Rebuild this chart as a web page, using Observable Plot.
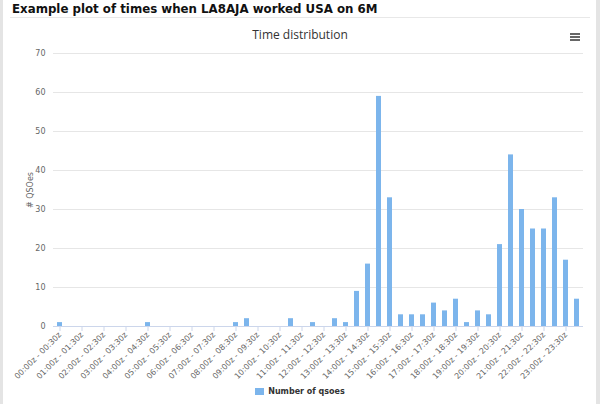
<!DOCTYPE html>
<html>
<head>
<meta charset="utf-8">
<script src="https://cdn.jsdelivr.net/npm/d3@7"></script>
<script src="https://cdn.jsdelivr.net/npm/@observablehq/plot@0.6"></script>
<style>
  html, body { margin: 0; padding: 0; background: #fff; }
  #page { position: relative; width: 600px; height: 404px; overflow: hidden; background: #fff; }
  #lborder { position: absolute; left: 0; top: 0; width: 3px; height: 404px; background: #e4e4e4; }
  #rborder { position: absolute; left: 596px; top: 0; width: 4px; height: 404px; background: #e4e4e4; }
  #title { position: absolute; left: 12px; top: 2px; font-family: "DejaVu Sans", Verdana, sans-serif; font-weight: bold; font-size: 11.8px; color: #111; white-space: nowrap; }
  #rule { position: absolute; left: 10px; top: 17px; width: 580px; height: 1px; background: #e8e8e8; }
  #ctitle { position: absolute; left: 0; width: 600px; top: 26px; text-align: center; font-family: "Open Sans", sans-serif; font-size: 12px; color: #333; }
  .hb { position: absolute; left: 570px; width: 10px; height: 2px; background: #666; }
  #chart { position: absolute; left: 0; top: 45px; }
  #legend { position: absolute; left: 0; width: 600px; top: 387px; text-align: center; font-family: "DejaVu Sans", sans-serif; font-weight: bold; font-size: 8px; color: #333; }
  #legend .sw { display: inline-block; width: 9px; height: 7px; background: #7cb5ec; vertical-align: -1px; margin-right: 4px; }
</style>
</head>
<body>
<div id="page">
  <div id="lborder"></div>
  <div id="rborder"></div>
  <div id="title">Example plot of times when LA8AJA worked USA on 6M</div>
  <div id="rule"></div>
  <div id="ctitle">Time distribution</div>
  <div class="hb" style="top:33px"></div>
  <div class="hb" style="top:36px"></div>
  <div class="hb" style="top:39px"></div>
  <div id="chart"></div>
  <div id="legend"><span class="sw"></span>Number of qsoes</div>
</div>
<script>
const slots = [
  "00:00z - 00:30z","00:30z - 01:00z","01:00z - 01:30z","01:30z - 02:00z",
  "02:00z - 02:30z","02:30z - 03:00z","03:00z - 03:30z","03:30z - 04:00z",
  "04:00z - 04:30z","04:30z - 05:00z","05:00z - 05:30z","05:30z - 06:00z",
  "06:00z - 06:30z","06:30z - 07:00z","07:00z - 07:30z","07:30z - 08:00z",
  "08:00z - 08:30z","08:30z - 09:00z","09:00z - 09:30z","09:30z - 10:00z",
  "10:00z - 10:30z","10:30z - 11:00z","11:00z - 11:30z","11:30z - 12:00z",
  "12:00z - 12:30z","12:30z - 13:00z","13:00z - 13:30z","13:30z - 14:00z",
  "14:00z - 14:30z","14:30z - 15:00z","15:00z - 15:30z","15:30z - 16:00z",
  "16:00z - 16:30z","16:30z - 17:00z","17:00z - 17:30z","17:30z - 18:00z",
  "18:00z - 18:30z","18:30z - 19:00z","19:00z - 19:30z","19:30z - 20:00z",
  "20:00z - 20:30z","20:30z - 21:00z","21:00z - 21:30z","21:30z - 22:00z",
  "22:00z - 22:30z","22:30z - 23:00z","23:00z - 23:30z","23:30z - 00:00z"
];
const qsoes = [
  1, 0, 0, 0, 0, 0, 0, 0,
  1, 0, 0, 0, 0, 0, 0, 0,
  1, 2, 0, 0, 0, 2, 0, 1,
  0, 2, 1, 9, 16, 59, 33, 3,
  3, 3, 6, 4, 7, 1, 4, 3,
  21, 44, 30, 25, 25, 33, 17, 7
];
const xTickLabels = [
  "00:00z - 00:30z","01:00z - 01:30z","02:00z - 02:30z","03:00z - 03:30z",
  "04:00z - 04:30z","05:00z - 05:30z","06:00z - 06:30z","07:00z - 07:30z",
  "08:00z - 08:30z","09:00z - 09:30z","10:00z - 10:30z","11:00z - 11:30z",
  "12:00z - 12:30z","13:00z - 13:30z","14:00z - 14:30z","15:00z - 15:30z",
  "16:00z - 16:30z","17:00z - 17:30z","18:00z - 18:30z","19:00z - 19:30z",
  "20:00z - 20:30z","21:00z - 21:30z","22:00z - 22:30z","23:00z - 23:30z"
];
const yTicks = [0, 10, 20, 30, 40, 50, 60, 70];

const data = slots.map((s, i) => ({slot: s, n: qsoes[i]}));

const chart = Plot.plot({
  width: 600,
  height: 335,
  marginTop: 8,
  marginBottom: 54,
  marginLeft: 53,
  marginRight: 17,
  style: {fontFamily: "DejaVu Sans, sans-serif", fontSize: "8px", color: "#666", background: "transparent"},
  x: {domain: slots, paddingInner: 0.52, paddingOuter: 0.26, label: null},
  y: {domain: [0, 70], label: null},
  marks: [
    Plot.gridY(yTicks, {stroke: "#e6e6e6", strokeOpacity: 1}),
    Plot.barY(data, {x: "slot", y: "n", fill: "#7cb5ec"}),
    Plot.ruleY([0], {stroke: "#ccd6eb"}),
    Plot.axisY(yTicks, {tickSize: 0, tickPadding: 8, fill: "#666", label: "# QSOes", labelAnchor: "center", labelOffset: 26, labelArrow: "none"}),
    Plot.axisX(xTickLabels, {tickSize: 5, tickPadding: 2, tickRotate: -45, stroke: "#ccd6eb", fill: "#666", fontSize: 8, label: null})
  ]
});
document.getElementById("chart").appendChild(chart);
</script>
</body>
</html>
